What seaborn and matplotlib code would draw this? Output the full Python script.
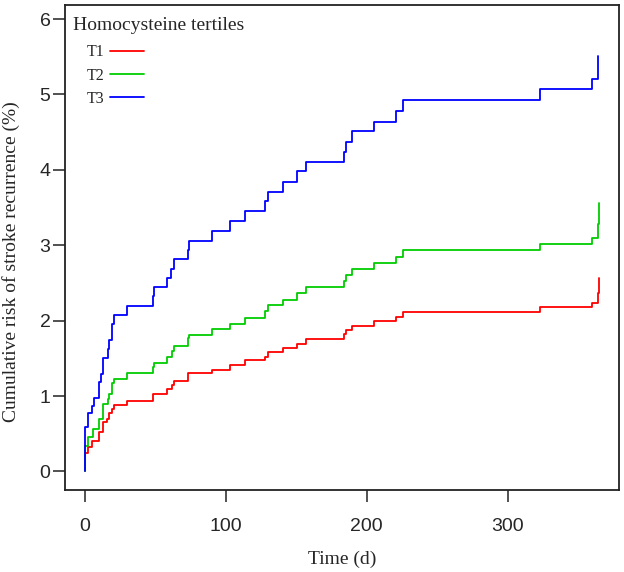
import seaborn as sns
import matplotlib.pyplot as plt
import pandas as pd

# cumulative risk (%), step points (day, value)
t1Days = [0, 0, 2.2, 5, 10, 12.9, 15.2, 17.1, 18.8, 20.7, 29.5, 47.9, 57.9, 61.4, 63.3, 73,
          89.8, 102.8, 113.5, 127.7, 130, 140.7, 150.6, 156.8, 183.8, 185.2, 189.3, 205,
          221, 226, 323, 360, 364, 365]
t1Risk = [0, 0.25, 0.32, 0.41, 0.52, 0.65, 0.69, 0.77, 0.83, 0.88, 0.93, 1.03, 1.09, 1.15, 1.20, 1.30,
          1.35, 1.41, 1.48, 1.52, 1.58, 1.64, 1.69, 1.75, 1.82, 1.88, 1.93, 1.99,
          2.05, 2.11, 2.18, 2.24, 2.36, 2.56]

t2Days = [0, 0, 2.2, 5.8, 10, 12.9, 16, 17.1, 18.8, 20.7, 29.5, 47.9, 49, 57.9, 61.4, 63.3, 73, 74,
          89.8, 102.8, 113.5, 127.7, 130, 140.7, 150.6, 156.8, 183.8, 185.2, 189.3, 205,
          221, 226, 323, 360, 364, 365]
t2Risk = [0, 0.34, 0.45, 0.56, 0.69, 0.89, 0.96, 1.03, 1.17, 1.23, 1.30, 1.39, 1.44, 1.52, 1.60, 1.66, 1.77, 1.81,
          1.89, 1.96, 2.04, 2.13, 2.21, 2.28, 2.36, 2.44, 2.52, 2.61, 2.68, 2.76,
          2.84, 2.93, 3.02, 3.10, 3.28, 3.56]

t3Days = [0, 0, 2.2, 5, 6.5, 10, 11.4, 12.9, 16, 17.1, 18.8, 20.7, 29.5, 47.9, 49, 58.3, 60.7, 63.3,
          73.2, 74, 89.8, 102.8, 113.5, 127.7, 130, 140.7, 150.6, 156.8, 183.8, 185.2, 189.3,
          205, 221, 226, 323, 360, 364]
t3Risk = [0, 0.59, 0.77, 0.87, 0.97, 1.18, 1.29, 1.51, 1.62, 1.74, 1.96, 2.08, 2.20, 2.32, 2.44, 2.56, 2.69, 2.82,
          2.94, 3.06, 3.19, 3.32, 3.45, 3.59, 3.71, 3.84, 3.98, 4.11, 4.24, 4.37, 4.51,
          4.64, 4.78, 4.93, 5.07, 5.21, 5.51]

groups = ['T1', 'T2', 'T3']
colors = ['#FF0000', '#00CD00', '#0000FF']
xTicks = [0, 100, 200, 300]
yTicks = [0, 1, 2, 3, 4, 5, 6]

df = pd.concat([
    pd.DataFrame({'day': d, 'risk': r, 'group': g})
    for d, r, g in zip([t1Days, t2Days, t3Days], [t1Risk, t2Risk, t3Risk], groups)
], ignore_index=True)

sns.set_style('ticks')
plt.rcParams['font.family'] = ['Liberation Sans', 'DejaVu Sans']
serif = ['Liberation Serif', 'DejaVu Serif']

fig = plt.figure(figsize=(6.24, 5.72), dpi=100)
ax = fig.add_axes([0.1042, 0.1442, 0.887, 0.8476])

sns.lineplot(data=df, x='day', y='risk', hue='group', palette=dict(zip(groups, colors)),
             estimator=None, sort=False, drawstyle='steps-post', linewidth=1.3, ax=ax, legend=False)

ax.set_xlim(-14.3, 378.8)
ax.set_ylim(-0.24, 6.19)
ax.set_xticks(xTicks)
ax.set_yticks(yTicks)
ax.tick_params(axis='both', direction='out', length=8.5, width=1.1, labelsize=14, color='#222222', pad=2)
ax.tick_params(axis='x', pad=12)
for s in ax.spines.values():
    s.set_visible(True)
    s.set_linewidth(1.3)
    s.set_color('#222222')

ax.set_xlabel('Time (d)', fontsize=14, family=serif, labelpad=11)
ax.set_ylabel('Cumulative risk of stroke recurrence (%)', fontsize=14, family=serif)
ax.yaxis.set_label_coords(-0.081, 0.471)

ax.text(0.0145, 0.947, 'Homocysteine tertiles', transform=ax.transAxes, fontsize=14,
        family=serif, va='baseline', ha='left')
handles = [plt.Line2D([], [], color=c, linewidth=1.3) for c in colors]
leg = ax.legend(handles, groups, loc='upper left', bbox_to_anchor=(0.039, 0.918), frameon=False,
                markerfirst=False, handlelength=2.15, handletextpad=0.35, labelspacing=0.45,
                borderpad=0, borderaxespad=0, prop={'family': serif, 'size': 11.5})

fig.savefig('out.png', dpi=100)
